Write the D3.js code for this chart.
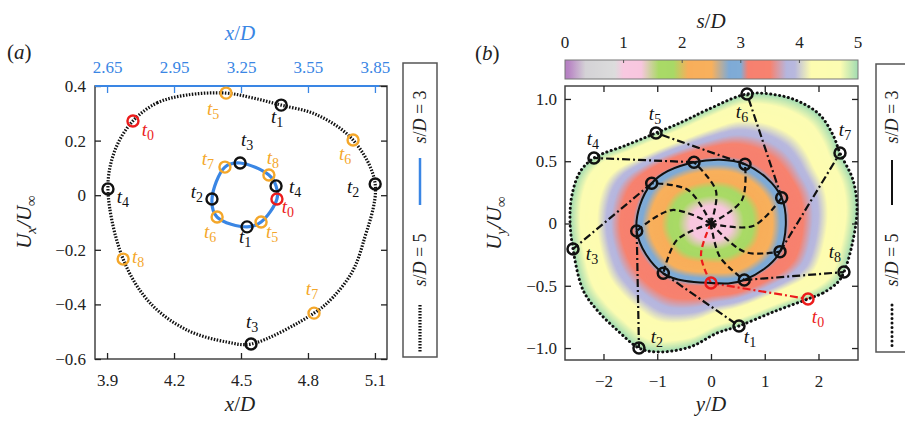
<!DOCTYPE html>
<html>
<head>
<meta charset="utf-8">
<script src="https://cdn.jsdelivr.net/npm/d3@7"></script>
<style>
  body { margin: 0; background: #fff; }
  svg text { font-family: "Liberation Serif", "DejaVu Serif", serif !important; }
</style>
</head>
<body>
<div id="chart"></div>
<script>
var svgWidth = 905;
var svgHeight = 421;
var serif = "'Liberation Serif', 'DejaVu Serif', serif";

// ---------------- data, panel (a) ----------------
var aXTicks = [3.9, 4.2, 4.5, 4.8, 5.1];
var aXTickLabels = ["3.9", "4.2", "4.5", "4.8", "5.1"];
var aTopTicks = [2.65, 2.95, 3.25, 3.55, 3.85];
var aTopTickLabels = ["2.65", "2.95", "3.25", "3.55", "3.85"];
var aYTicks = [0.4, 0.2, 0, -0.2, -0.4, -0.6];
var aYTickLabels = ["0.4", "0.2", "0", "\u22120.2", "\u22120.4", "\u22120.6"];

// s/D = 5 trajectory (bottom x axis)
var a5PathX = [4.016, 4.124, 4.258, 4.433, 4.554, 4.680, 4.841, 5.002, 5.101, 5.047,
  4.998, 4.913, 4.827, 4.545, 4.438, 4.258, 4.093, 3.972, 3.904, 3.936];
var a5PathU = [0.272, 0.338, 0.367, 0.374, 0.356, 0.330, 0.294, 0.202, 0.041, -0.175,
  -0.281, -0.373, -0.432, -0.545, -0.538, -0.494, -0.395, -0.234, 0.023, 0.166];

var timeNames = ["0", "1", "2", "3", "4", "5", "6", "7", "8"];
// s/D = 5 markers t0..t8
var a5X = [4.016, 4.680, 5.101, 4.545, 3.904, 4.433, 5.002, 4.827, 3.972];
var a5U = [0.272, 0.330, 0.041, -0.545, 0.023, 0.374, 0.202, -0.432, -0.234];
// s/D = 3 markers t0..t8 (top x axis)
var a3X = [3.411, 3.277, 3.120, 3.246, 3.407, 3.340, 3.143, 3.178, 3.375];
var a3U = [-0.014, -0.116, -0.014, 0.118, 0.034, -0.098, -0.080, 0.103, 0.074];
var a3Order = [0, 4, 8, 3, 7, 2, 6, 1, 5];

// ---------------- data, panel (b) ----------------
var bXTicks = [-2, -1, 0, 1, 2];
var bXTickLabels = ["\u22122", "\u22121", "0", "1", "2"];
var bYTicks = [1, 0.5, 0, -0.5, -1];
var bYTickLabels = ["1.0", "0.5", "0", "\u22120.5", "\u22121.0"];
var cbTicks = [0, 1, 2, 3, 4, 5];

// s/D = 3 markers t0..t8
var bInY = [0.0, -0.887, -1.382, -1.103, -0.316, 0.633, 1.315, 1.284, 0.620];
var bInU = [-0.478, -0.400, -0.060, 0.323, 0.492, 0.476, 0.207, -0.226, -0.454];
var bInOrder = [0, 8, 7, 6, 5, 4, 3, 2, 1];
// s/D = 5 markers t0..t8
var bOutY = [1.805, 0.521, -1.340, -2.567, -2.177, -1.023, 0.670, 2.400, 2.474];
var bOutU = [-0.606, -0.823, -1.000, -0.205, 0.526, 0.727, 1.040, 0.566, -0.390];
// mid points of the spiral arms (centre -> s/D = 3 marker)
var bMidY = [-0.186, -0.633, -0.726, -0.428, 0.093, 0.577, 0.781, 0.633, 0.167];
var bMidU = [-0.253, -0.133, 0.108, 0.269, 0.261, 0.189, -0.020, -0.229, -0.269];
// s/D = 5 outer boundary
var bEdgeY = [1.805, 2.084, 2.363, 2.474, 2.623, 2.716, 2.642, 2.400, 2.270, 2.028, 1.656,
  1.228, 0.670, -0.074, -0.540, -1.023, -1.563, -2.177, -2.437, -2.586, -2.623, -2.567,
  -2.381, -2.121, -1.749, -1.340, -1.005, -0.391, 0.112, 0.521, 1.153];
var bEdgeU = [-0.606, -0.558, -0.470, -0.390, -0.173, 0.108, 0.349, 0.566, 0.711, 0.871, 0.976,
  1.032, 1.040, 0.912, 0.815, 0.727, 0.631, 0.526, 0.414, 0.229, 0.028, -0.205,
  -0.534, -0.695, -0.855, -1.000, -1.032, -0.992, -0.880, -0.823, -0.711];

// colour map of s/D (each colour holds over a short plateau)
var cmapStops = [0, 0.06, 0.35, 0.85, 1.0, 1.3, 1.6, 1.85, 2.1, 2.5, 2.8, 3.0,
  3.12, 3.5, 3.78, 3.92, 4.2, 4.7, 5];
var cmapColors = ["#b47ec2", "#b884c4", "#d4d2d6", "#dcdcdc", "#f8c8e0", "#f8c6df",
  "#a9da66", "#a8d966", "#f8ae5a", "#f8b05c", "#7eaad6", "#80acd6",
  "#f7806f", "#f7826f", "#b5b6de", "#b8b8de", "#fdfcb0", "#fcfcb2", "#a2dcb2"];
var sCentre = 1.0;

// ---------------- colours / helpers ----------------
var red = "#ec1c1c", orange = "#f4a72a", ink = "#111", blue = "#3a86e4";
function markColor(i) { return i === 0 ? red : (i >= 5 ? orange : ink); }

var svg = d3.select("#chart").append("svg")
  .attr("width", svgWidth)
  .attr("height", svgHeight)
  .style("font-family", serif);
svg.append("rect").attr("width", svgWidth).attr("height", svgHeight).attr("fill", "#fff");

// append text made of pieces [string, italic, sub, back-up]
function rich(g, parts, size) {
  var t = g.append("text").attr("font-size", size).style("font-family", serif);
  parts.forEach(function(p) {
    var sp = t.append("tspan").text(p[0])
      .attr("font-style", p[1] ? "italic" : "normal");
    if (p[2]) sp.attr("font-size", size * 0.72).attr("dy", size * 0.25);
    if (p[3]) sp.attr("dy", -size * 0.25);
  });
  return t;
}

function tLabel(g, x, y, i, color) {
  g.append("text")
    .attr("x", x).attr("y", y + 3)
    .attr("text-anchor", "middle")
    .attr("font-size", 19)
    .style("font-family", serif)
    .attr("fill", color)
    .call(function(t) {
      t.append("tspan").attr("font-style", "italic").text("t");
      t.append("tspan").attr("font-size", 14).attr("dy", 4).text(timeNames[i]);
    });
}

function styleAxis(g, color) {
  g.select(".domain").remove();
  g.attr("font-family", null).attr("font-size", null);
  g.selectAll("line").attr("stroke", color).attr("stroke-width", 1.3);
  g.selectAll("text").attr("fill", color).attr("font-size", 17).style("font-family", serif);
}

// ================= panel (a) =================
var aLeft = 95, aRight = 387, aTop = 86, aBottom = 359;
var xA = d3.scaleLinear().domain([3.846, 5.154]).range([aLeft, aRight]);
var xTop = d3.scaleLinear().domain([2.596, 3.904]).range([aLeft, aRight]);
var yA = d3.scaleLinear().domain([-0.6, 0.4]).range([aBottom, aTop]);

var pa = svg.append("g");
pa.append("rect")
  .attr("x", aLeft).attr("y", aTop)
  .attr("width", aRight - aLeft).attr("height", aBottom - aTop)
  .attr("fill", "none").attr("stroke", "#444").attr("stroke-width", 1.5);

pa.append("g").attr("transform", `translate(${aLeft},0)`)
  .call(d3.axisLeft(yA).tickValues(aYTicks).tickFormat((d, i) => aYTickLabels[i])
    .tickSizeInner(-6).tickSizeOuter(0).tickPadding(9))
  .call(g => styleAxis(g, "#222"));
pa.append("g").attr("transform", `translate(${aRight},0)`)
  .call(d3.axisRight(yA).tickValues(aYTicks).tickFormat("")
    .tickSizeInner(-6).tickSizeOuter(0))
  .call(g => styleAxis(g, "#222"));
pa.append("g").attr("transform", `translate(0,${aBottom})`)
  .call(d3.axisBottom(xA).tickValues(aXTicks).tickFormat((d, i) => aXTickLabels[i])
    .tickSizeInner(-6).tickSizeOuter(0).tickPadding(15))
  .call(g => styleAxis(g, "#222"));
pa.append("line")
  .attr("x1", aLeft).attr("x2", xTop(3.87))
  .attr("y1", aTop).attr("y2", aTop)
  .attr("stroke", blue).attr("stroke-width", 2);
pa.append("g").attr("transform", `translate(0,${aTop})`)
  .call(d3.axisTop(xTop).tickValues(aTopTicks).tickFormat((d, i) => aTopTickLabels[i])
    .tickSizeInner(-7).tickSizeOuter(0).tickPadding(13))
  .call(g => styleAxis(g, blue));

// s/D = 5 loop (dotted)
var a5Pts = a5PathX.map((x, i) => [xA(x), yA(a5PathU[i])]);
pa.append("path")
  .attr("d", d3.line().curve(d3.curveCatmullRomClosed)(a5Pts))
  .attr("fill", "none").attr("stroke", "#111")
  .attr("stroke-width", 3.2).attr("stroke-dasharray", "1.5 1.5");

// s/D = 3 loop (blue)
var a3Pts = a3Order.map(i => [xTop(a3X[i]), yA(a3U[i])]);
pa.append("path")
  .attr("d", d3.line().curve(d3.curveCatmullRomClosed)(a3Pts))
  .attr("fill", "none").attr("stroke", blue).attr("stroke-width", 3.2);

var a5Off = [[15, 12], [-4, 15], [-22, 6], [1, -19], [15, 11], [-13, 19], [-8, 17], [-2, -21], [15, 1]];
var a3Off = [[11, 11], [-2, 13], [-15, -4], [7, -20], [19, 4], [11, 13], [-7, 18], [-17, -5], [4, -14]];

a5X.forEach(function(x, i) {
  var px = xA(x), py = yA(a5U[i]);
  pa.append("circle").attr("cx", px).attr("cy", py).attr("r", 5.5)
    .attr("fill", "none").attr("stroke", markColor(i)).attr("stroke-width", 2.4);
  tLabel(pa, px + a5Off[i][0], py + a5Off[i][1], i, markColor(i));
});
a3X.forEach(function(x, i) {
  var px = xTop(x), py = yA(a3U[i]);
  pa.append("circle").attr("cx", px).attr("cy", py).attr("r", 5.5)
    .attr("fill", "none").attr("stroke", markColor(i)).attr("stroke-width", 2.4);
  tLabel(pa, px + a3Off[i][0], py + a3Off[i][1], i, markColor(i));
});

// axis titles panel (a)
rich(pa, [["x", true], ["/"], ["D", true]], 21)
  .attr("x", 240).attr("y", 411).attr("text-anchor", "middle").attr("fill", "#222");
rich(pa, [["x", true], ["/"], ["D", true]], 21)
  .attr("x", 240).attr("y", 40).attr("text-anchor", "middle").attr("fill", blue);
rich(pa, [["U", true], ["x", true, true], ["/U", true, false, true], ["\u221e", false, true]], 21)
  .attr("text-anchor", "middle").attr("fill", "#222")
  .attr("transform", "translate(31,222) rotate(-90)");
rich(pa, [["("], ["a", true], [")"]], 21).attr("x", 7).attr("y", 59).attr("fill", "#222");

// legend (a)
var legA = svg.append("g");
legA.append("rect").attr("x", 403).attr("y", 63).attr("width", 34).attr("height", 294)
  .attr("fill", "#fff").attr("stroke", "#555").attr("stroke-width", 1.5);
rich(legA, [["s", true], ["/"], ["D", true], [" = 3"]], 18)
  .attr("text-anchor", "middle").attr("fill", "#222")
  .attr("transform", "translate(426,117) rotate(-90)");
legA.append("line").attr("x1", 420).attr("x2", 420).attr("y1", 158).attr("y2", 205)
  .attr("stroke", blue).attr("stroke-width", 2.5);
rich(legA, [["s", true], ["/"], ["D", true], [" = 5"]], 18)
  .attr("text-anchor", "middle").attr("fill", "#222")
  .attr("transform", "translate(426,260) rotate(-90)");
legA.append("line").attr("x1", 420).attr("x2", 420).attr("y1", 305).attr("y2", 352)
  .attr("stroke", "#111").attr("stroke-width", 3.2).attr("stroke-dasharray", "1.5 1.5");

// ================= panel (b) =================
var bLeft = 565, bRight = 858, bTop = 86, bBottom = 360;
var xB = d3.scaleLinear().domain([-2.716, 2.735]).range([bLeft, bRight]);
var yB = d3.scaleLinear().domain([-1.096, 1.104]).range([bBottom, bTop]);
var color = d3.scaleLinear().domain(cmapStops).range(cmapColors).interpolate(d3.interpolateRgb);

var pb = svg.append("g");
var cx = xB(0), cy = yB(0);

var inPts = bInOrder.map(i => [xB(bInY[i]), yB(bInU[i])]);
var edgePts = bEdgeY.map((y, i) => [xB(y), yB(bEdgeU[i])]);
var inD = d3.line().curve(d3.curveCatmullRomClosed)(inPts);
var edgeD = d3.line().curve(d3.curveCatmullRomClosed)(edgePts);

// radius of a closed curve as a function of angle around the centre
function ringTable(d) {
  var node = svg.append("path").attr("d", d).attr("fill", "none").node();
  var L = node.getTotalLength(), pts = [];
  for (var i = 0; i < 1500; i++) {
    var p = node.getPointAtLength(L * i / 1500);
    pts.push([Math.atan2(p.y - cy, p.x - cx), Math.hypot(p.x - cx, p.y - cy)]);
  }
  node.remove();
  pts.sort((a, b) => a[0] - b[0]);
  var n = pts.length;
  pts = [[pts[n - 1][0] - 2 * Math.PI, pts[n - 1][1]]].concat(pts, [[pts[0][0] + 2 * Math.PI, pts[0][1]]]);
  var bis = d3.bisector(p => p[0]).left;
  return function(a) {
    var i = Math.min(Math.max(bis(pts, a), 1), pts.length - 1);
    var p0 = pts[i - 1], p1 = pts[i];
    var t = (a - p0[0]) / ((p1[0] - p0[0]) || 1);
    return p0[1] + (p1[1] - p0[1]) * t;
  };
}
var rIn = ringTable(inD), rOut = ringTable(edgeD);
var angles = d3.range(0, 360).map(k => -Math.PI + k * 2 * Math.PI / 360);
var rin = angles.map(rIn), rout = angles.map(rOut);
var levels = d3.range(5, sCentre, -0.025);

// s grows faster near the s/D = 3 loop than near the centre
pb.append("g").selectAll("path").data(levels).join("path")
  .attr("d", function(s) {
    var pts = angles.map(function(a, k) {
      var r = s >= 3 ? rin[k] + (s - 3) / 2 * (rout[k] - rin[k])
                     : rin[k] * Math.pow((s - sCentre) / (3 - sCentre), 1 / 1.5);
      return [cx + r * Math.cos(a), cy + r * Math.sin(a)];
    });
    return d3.line().curve(d3.curveLinearClosed)(pts);
  })
  .attr("fill", s => color(s));

pb.append("rect")
  .attr("x", bLeft).attr("y", bTop)
  .attr("width", bRight - bLeft).attr("height", bBottom - bTop)
  .attr("fill", "none").attr("stroke", "#444").attr("stroke-width", 1.5);
pb.append("g").attr("transform", `translate(${bLeft},0)`)
  .call(d3.axisLeft(yB).tickValues(bYTicks).tickFormat((d, i) => bYTickLabels[i])
    .tickSizeInner(-6).tickSizeOuter(0).tickPadding(8))
  .call(g => styleAxis(g, "#222"));
pb.append("g").attr("transform", `translate(${bRight},0)`)
  .call(d3.axisRight(yB).tickValues(bYTicks).tickFormat("")
    .tickSizeInner(-6).tickSizeOuter(0))
  .call(g => styleAxis(g, "#222"));
pb.append("g").attr("transform", `translate(0,${bBottom})`)
  .call(d3.axisBottom(xB).tickValues(bXTicks).tickFormat((d, i) => bXTickLabels[i])
    .tickSizeInner(-6).tickSizeOuter(0).tickPadding(15))
  .call(g => styleAxis(g, "#222"));
pb.append("g").attr("transform", `translate(0,${bTop})`)
  .call(d3.axisTop(xB).tickValues(bXTicks).tickFormat("")
    .tickSizeInner(-6).tickSizeOuter(0))
  .call(g => styleAxis(g, "#222"));

// spiral arms: centre -> s/D = 3 markers
bInY.forEach(function(y, i) {
  var pts = [[cx, cy], [xB(bMidY[i]), yB(bMidU[i])], [xB(y), yB(bInU[i])]];
  pb.append("path")
    .attr("d", d3.line().curve(d3.curveCatmullRom)(pts))
    .attr("fill", "none").attr("stroke", i === 0 ? red : ink)
    .attr("stroke-width", 2.2).attr("stroke-dasharray", "6 3.5");
});
// s/D = 3 -> s/D = 5 connectors
bInY.forEach(function(y, i) {
  pb.append("line")
    .attr("x1", xB(y)).attr("y1", yB(bInU[i]))
    .attr("x2", xB(bOutY[i])).attr("y2", yB(bOutU[i]))
    .attr("stroke", i === 0 ? red : ink)
    .attr("stroke-width", 2.2).attr("stroke-dasharray", "8 3 2 3");
});
// s/D = 3 loop
pb.append("path").attr("d", inD)
  .attr("fill", "none").attr("stroke", ink).attr("stroke-width", 2);
// s/D = 5 boundary
pb.append("path").attr("d", edgeD)
  .attr("fill", "none").attr("stroke", "#111").attr("stroke-width", 3)
  .attr("stroke-linecap", "round").attr("stroke-dasharray", "0.1 4.4");

pb.append("path")
  .attr("transform", `translate(${cx},${cy})`)
  .attr("d", d3.symbol(d3.symbolAsterisk, 90)())
  .attr("fill", "none").attr("stroke", ink).attr("stroke-width", 1.6);

var bOutOff = [[10, 21], [11, 14], [18, -8], [19, 8], [-1, -16], [-1, -16], [-5, 21], [5, -20], [-9, -17]];
bInY.forEach(function(y, i) {
  pb.append("circle").attr("cx", xB(y)).attr("cy", yB(bInU[i])).attr("r", 5.5)
    .attr("fill", "none").attr("stroke", i === 0 ? red : ink).attr("stroke-width", 2.5);
});
bOutY.forEach(function(y, i) {
  var px = xB(y), py = yB(bOutU[i]);
  pb.append("circle").attr("cx", px).attr("cy", py).attr("r", 5.5)
    .attr("fill", "none").attr("stroke", i === 0 ? red : ink).attr("stroke-width", 2.5);
  tLabel(pb, px + bOutOff[i][0], py + bOutOff[i][1], i, i === 0 ? red : ink);
});

// colour bar
var cbScale = d3.scaleLinear().domain([0, 5]).range([bLeft, bRight]);
var grad = svg.append("defs").append("linearGradient").attr("id", "cbar");
d3.range(0, 5.0001, 0.025).forEach(function(s) {
  grad.append("stop").attr("offset", (s / 5 * 100) + "%").attr("stop-color", color(s));
});
pb.append("rect").attr("x", bLeft).attr("y", 60).attr("width", bRight - bLeft).attr("height", 19)
  .attr("fill", "url(#cbar)").attr("stroke", "#777").attr("stroke-width", 1);
cbTicks.forEach(function(v) {
  if (v > 0 && v < 5) {
    pb.append("line").attr("x1", cbScale(v)).attr("x2", cbScale(v))
      .attr("y1", 60).attr("y2", 63).attr("stroke", "#555");
  }
  pb.append("text").attr("x", cbScale(v)).attr("y", 48).attr("text-anchor", "middle")
    .attr("font-size", 17).style("font-family", serif).attr("fill", "#222").text(v);
});
rich(pb, [["s", true], ["/"], ["D", true]], 21)
  .attr("x", 711).attr("y", 28).attr("text-anchor", "middle").attr("fill", "#222");

// axis titles panel (b)
rich(pb, [["y", true], ["/"], ["D", true]], 21)
  .attr("x", 711).attr("y", 411).attr("text-anchor", "middle").attr("fill", "#222");
rich(pb, [["U", true], ["y", true, true], ["/U", true, false, true], ["\u221e", false, true]], 21)
  .attr("text-anchor", "middle").attr("fill", "#222")
  .attr("transform", "translate(501,223) rotate(-90)");
rich(pb, [["("], ["b", true], [")"]], 21).attr("x", 475).attr("y", 60).attr("fill", "#222");

// legend (b)
var legB = svg.append("g");
legB.append("rect").attr("x", 876).attr("y", 64).attr("width", 40).attr("height", 288)
  .attr("fill", "#fff").attr("stroke", "#555").attr("stroke-width", 1.5);
rich(legB, [["s", true], ["/"], ["D", true], [" = 3"]], 18)
  .attr("text-anchor", "middle").attr("fill", "#222")
  .attr("transform", "translate(898,117) rotate(-90)");
legB.append("line").attr("x1", 892).attr("x2", 892).attr("y1", 160).attr("y2", 205)
  .attr("stroke", ink).attr("stroke-width", 2);
rich(legB, [["s", true], ["/"], ["D", true], [" = 5"]], 18)
  .attr("text-anchor", "middle").attr("fill", "#222")
  .attr("transform", "translate(898,260) rotate(-90)");
legB.append("line").attr("x1", 892).attr("x2", 892).attr("y1", 305).attr("y2", 350)
  .attr("stroke", "#111").attr("stroke-width", 3)
  .attr("stroke-linecap", "round").attr("stroke-dasharray", "0.1 4.4");
</script>
</body>
</html>
